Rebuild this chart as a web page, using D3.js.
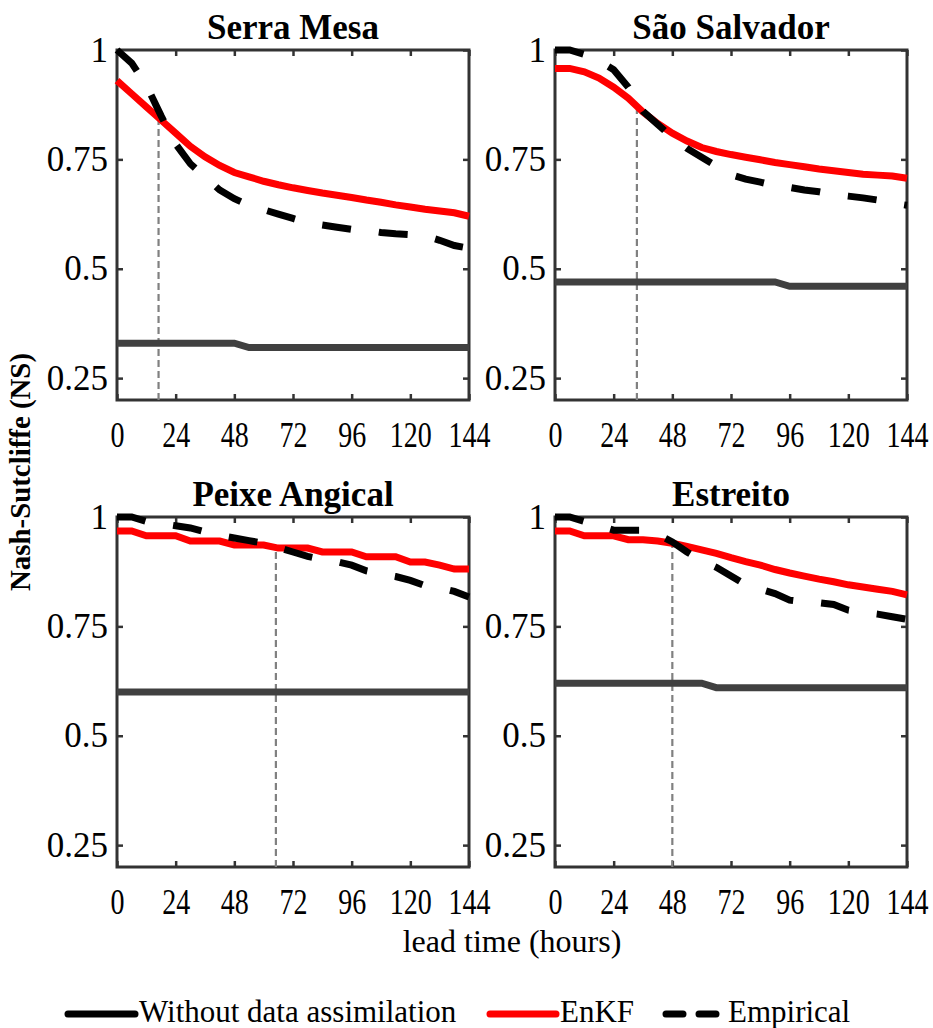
<!DOCTYPE html>
<html>
<head>
<meta charset="utf-8">
<script src="https://cdn.jsdelivr.net/npm/d3@7/dist/d3.min.js"></script>
<style>
    body { margin: 0; background: #fff; }
    svg text { font-family: "Liberation Serif", "Times New Roman", "DejaVu Serif", serif; fill: #000; }
</style>
</head>
<body>
<svg id="chart" width="933" height="1028"></svg>
<script>
// lead time grid (hours), every 6 h
var leadHours = [0, 6, 12, 18, 24, 30, 36, 42, 48, 54, 60, 66, 72, 78, 84, 90, 96, 102, 108, 114, 120, 126, 132, 138, 144];
var stationNames = ["Serra Mesa", "São Salvador", "Peixe Angical", "Estreito"];
var xTicks = [0, 24, 48, 72, 96, 120, 144];
var yTicks = [0.25, 0.5, 0.75, 1];
var yTickLabels = ["0.25", "0.5", "0.75", "1"];
var seriesNames = ["Without data assimilation", "EnKF", "Empirical"];

// Serra Mesa
var serraMesaNoDA      = [0.33, 0.33, 0.33, 0.33, 0.33, 0.33, 0.33, 0.33, 0.33, 0.32, 0.32, 0.32, 0.32, 0.32, 0.32, 0.32, 0.32, 0.32, 0.32, 0.32, 0.32, 0.32, 0.32, 0.32, 0.32];
var serraMesaEnKF      = [0.93, 0.90, 0.87, 0.84, 0.81, 0.78, 0.756, 0.736, 0.72, 0.71, 0.70, 0.692, 0.685, 0.679, 0.673, 0.668, 0.663, 0.657, 0.652, 0.646, 0.641, 0.636, 0.632, 0.628, 0.62];
var serraMesaEmpirical = [1.0, 0.97, 0.92, 0.85, 0.785, 0.74, 0.71, 0.68, 0.66, 0.645, 0.635, 0.625, 0.615, 0.605, 0.60, 0.595, 0.59, 0.588, 0.583, 0.58, 0.578, 0.575, 0.565, 0.553, 0.547];

// Sao Salvador
var saoSalvadorNoDA      = [0.47, 0.47, 0.47, 0.47, 0.47, 0.47, 0.47, 0.47, 0.47, 0.47, 0.47, 0.47, 0.47, 0.47, 0.47, 0.47, 0.46, 0.46, 0.46, 0.46, 0.46, 0.46, 0.46, 0.46, 0.46];
var saoSalvadorEnKF      = [0.958, 0.958, 0.95, 0.936, 0.915, 0.89, 0.858, 0.832, 0.81, 0.792, 0.777, 0.768, 0.761, 0.755, 0.749, 0.743, 0.738, 0.733, 0.728, 0.724, 0.72, 0.716, 0.714, 0.712, 0.707];
var saoSalvadorEmpirical = [1.0, 1.0, 0.99, 0.975, 0.955, 0.915, 0.86, 0.83, 0.80, 0.775, 0.755, 0.735, 0.715, 0.705, 0.698, 0.69, 0.686, 0.68, 0.676, 0.67, 0.666, 0.662, 0.657, 0.65, 0.645];

// Peixe Angical
var peixeAngicalNoDA      = [0.60, 0.60, 0.60, 0.60, 0.60, 0.60, 0.60, 0.60, 0.60, 0.60, 0.60, 0.60, 0.60, 0.60, 0.60, 0.60, 0.60, 0.60, 0.60, 0.60, 0.60, 0.60, 0.60, 0.60, 0.60];
var peixeAngicalEnKF      = [0.968, 0.968, 0.957, 0.957, 0.957, 0.945, 0.945, 0.945, 0.936, 0.936, 0.936, 0.929, 0.929, 0.929, 0.92, 0.92, 0.92, 0.909, 0.909, 0.909, 0.897, 0.897, 0.89, 0.881, 0.881];
var peixeAngicalEmpirical = [1.0, 1.0, 0.99, 0.985, 0.98, 0.975, 0.966, 0.958, 0.952, 0.946, 0.94, 0.93, 0.92, 0.91, 0.903, 0.898, 0.89, 0.877, 0.87, 0.864, 0.855, 0.843, 0.838, 0.83, 0.817];

// Estreito
var estreitoNoDA      = [0.62, 0.62, 0.62, 0.62, 0.62, 0.62, 0.62, 0.62, 0.62, 0.62, 0.62, 0.61, 0.61, 0.61, 0.61, 0.61, 0.61, 0.61, 0.61, 0.61, 0.61, 0.61, 0.61, 0.61, 0.61];
var estreitoEnKF      = [0.968, 0.968, 0.957, 0.957, 0.957, 0.948, 0.948, 0.945, 0.94, 0.933, 0.925, 0.917, 0.907, 0.898, 0.89, 0.88, 0.872, 0.865, 0.858, 0.852, 0.845, 0.84, 0.835, 0.83, 0.822];
var estreitoEmpirical = [1.0, 1.0, 0.99, 0.98, 0.97, 0.97, 0.97, 0.96, 0.943, 0.92, 0.90, 0.885, 0.865, 0.845, 0.835, 0.825, 0.81, 0.806, 0.804, 0.80, 0.787, 0.782, 0.778, 0.772, 0.766];

// lead time where EnKF and Empirical cross (vertical marker)
var crossHours = [17, 33.5, 65, 48];

var noDASeries = [serraMesaNoDA, saoSalvadorNoDA, peixeAngicalNoDA, estreitoNoDA];
var enkfSeries = [serraMesaEnKF, saoSalvadorEnKF, peixeAngicalEnKF, estreitoEnKF];
var empiricalSeries = [serraMesaEmpirical, saoSalvadorEmpirical, peixeAngicalEmpirical, estreitoEmpirical];

var colors = {noDA: "#404040", enkf: "#ff0000", empirical: "#000000", frame: "#333333", marker: "#808080"};

var svg = d3.select("#chart");
var panelW = 352, panelH = 350;
var panelPos = [[117, 50], [555, 50], [117, 517], [555, 517]];

function drawPanel(i){
    var left = panelPos[i][0], top = panelPos[i][1];
    var x = d3.scaleLinear().domain([0, 144]).range([0, panelW]);
    var y = d3.scaleLinear().domain([0.2, 1]).range([panelH, 0]);
    var g = svg.append("g").attr("transform", "translate(" + left + "," + top + ")");

    // frame
    g.append("rect").attr("width", panelW).attr("height", panelH)
        .attr("fill", "none").attr("stroke", colors.frame).attr("stroke-width", 3);

    var axB = g.append("g").attr("transform", "translate(0," + panelH + ")")
        .call(d3.axisBottom(x).tickValues(xTicks).tickSizeInner(-6).tickSizeOuter(0));
    var axT = g.append("g")
        .call(d3.axisTop(x).tickValues(xTicks).tickSizeInner(-6).tickSizeOuter(0).tickFormat(""));
    var axL = g.append("g")
        .call(d3.axisLeft(y).tickValues(yTicks).tickSizeInner(-6).tickSizeOuter(0)
            .tickFormat(function(d, k){ return yTickLabels[k]; }));
    var axR = g.append("g").attr("transform", "translate(" + panelW + ",0)")
        .call(d3.axisRight(y).tickValues(yTicks).tickSizeInner(-6).tickSizeOuter(0).tickFormat(""));
    [axB, axT, axL, axR].forEach(function(a){
        a.attr("font-family", null);
        a.select(".domain").remove();
        a.selectAll("line").attr("stroke", colors.frame).attr("stroke-width", 2.5);
    });
    axB.selectAll("text").attr("font-size", 35)
        .attr("y", 47).attr("dy", null).attr("transform", "scale(0.8,1)");
    axL.selectAll("text").attr("font-size", 35)
        .attr("x", -9).attr("dy", "0.32em");

    // title
    g.append("text").attr("x", panelW / 2).attr("y", -11)
        .attr("text-anchor", "middle").attr("font-size", 35).attr("font-weight", "bold")
        .text(stationNames[i]);

    // vertical marker up to the EnKF curve
    var enkfAt = d3.scaleLinear().domain(leadHours).range(enkfSeries[i]);
    var h = crossHours[i];
    g.append("line")
        .attr("x1", x(h)).attr("x2", x(h))
        .attr("y1", y(0.2)).attr("y2", y(enkfAt(h)))
        .attr("stroke", colors.marker).attr("stroke-width", 2.2).attr("stroke-dasharray", "7,4");

    var line = d3.line().x(function(d, j){ return x(leadHours[j]); }).y(function(d){ return y(d); });

    g.append("path").datum(noDASeries[i]).attr("d", line)
        .attr("fill", "none").attr("stroke", colors.noDA).attr("stroke-width", 7);
    g.append("path").datum(enkfSeries[i]).attr("d", line)
        .attr("fill", "none").attr("stroke", colors.enkf).attr("stroke-width", 7);
    g.append("path").datum(empiricalSeries[i]).attr("d", line)
        .attr("fill", "none").attr("stroke", colors.empirical).attr("stroke-width", 7)
        .attr("stroke-dasharray", "29,28");
}

for (var i = 0; i < stationNames.length; i++) drawPanel(i);

// axis titles
svg.append("text").attr("x", 512).attr("y", 952).attr("text-anchor", "middle")
    .attr("font-size", 32).text("lead time (hours)");
svg.append("text").attr("transform", "translate(30,472) rotate(-90)")
    .attr("text-anchor", "middle").attr("font-size", 29).attr("font-weight", "bold")
    .attr("textLength", 238).attr("lengthAdjust", "spacingAndGlyphs")
    .text("Nash-Sutcliffe (NS)");

// legend
var legend = svg.append("g").attr("transform", "translate(0,1014)");
var legendItems = [
    {name: seriesNames[0], x0: 68, x1: 135, tx: 139, color: "#000", dash: null},
    {name: seriesNames[1], x0: 490, x1: 556, tx: 560, color: colors.enkf, dash: null},
    {name: seriesNames[2], x0: 666, x1: 716, tx: 728, color: "#000", dash: "17,16"}
];
legendItems.forEach(function(d){
    legend.append("line").attr("x1", d.x0).attr("x2", d.x1).attr("y1", 0).attr("y2", 0)
        .attr("stroke", d.color).attr("stroke-width", 7).attr("stroke-linecap", "round")
        .attr("stroke-dasharray", d.dash);
    legend.append("text").attr("x", d.tx).attr("y", 8).attr("font-size", 31).text(d.name);
});
</script>
</body>
</html>
